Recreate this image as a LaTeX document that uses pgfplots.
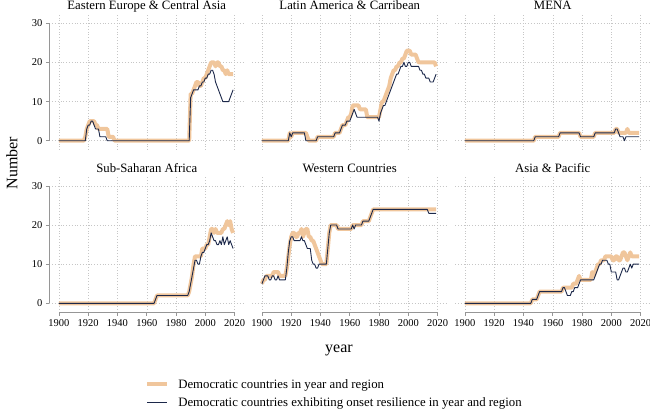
\documentclass[border=0pt]{standalone}
\usepackage{fontspec}
\setmainfont{Liberation Serif}
\usepackage{pgfplots}
\pgfplotsset{compat=1.18}
\definecolor{demcol}{RGB}{240,198,156}
\definecolor{rescol}{RGB}{28,40,74}
\definecolor{axcol}{RGB}{150,150,150}
\pgfplotsset{
  every axis title shift=0pt,
  panel/.style={
    scale only axis, width=194.9pt, height=135.4pt,
    xmin=1893.4, xmax=2026.6, ymin=-2.3, ymax=32.3,
    xtick={1900,1920,...,2020}, ytick={0,10,20,30},
    axis lines*=left,
    tick align=outside, major tick length=3.5pt,
    grid=major,
    major grid style={line width=0.5pt, color=gray!45, dash pattern=on 0.6pt off 2.2pt},
    x axis line style={draw=axcol, line width=0.6pt, -, shorten <=9.7pt, shorten >=9.7pt},
    y axis line style={draw=axcol, line width=0.6pt, -, shorten <=9pt, shorten >=9pt},
    xtick style={draw=axcol, line width=0.6pt},
    ytick style={draw=axcol, line width=0.6pt},
    ticklabel style={font=\fontsize{10.5}{12}\selectfont, /pgf/number format/1000 sep={}, /pgf/number format/assume math mode=true},
    title style={at={(0.5,1)}, anchor=base, yshift=4.8pt, font=\fontsize{12.75}{14}\selectfont, inner sep=0pt},
  },
  noy/.style={y axis line style={draw=none}, ytick style={draw=none}, yticklabels={}},
  nox/.style={x axis line style={draw=none}, xtick style={draw=none}, xticklabels={}},
  dem/.style={demcol, line width=4pt, line join=round},
  res/.style={rescol, line width=0.9pt, line join=round},
}
\begin{document}
\begin{tikzpicture}
\useasboundingbox (0,0) rectangle (650pt,-410pt);

% ---------- Eastern Europe & Central Asia
\begin{axis}[panel, nox, at={(49.3pt,-14.3pt)}, anchor=north west, title={Eastern Europe \& Central Asia}]
\addplot[dem] coordinates {(1900,0)(1917,0)(1918,1)(1919,3)(1920,4)(1921,5)(1924,5)(1925,4)(1926,4)(1927,3)(1933,3)(1934,1)(1937,1)(1938,0)(1989,0)(1990,12)(1991,12)(1992,13)(1993,14)(1994,15)(1995,15)(1996,14)(1997,14)(1998,15)(1999,16)(2000,16)(2001,17)(2002,18)(2003,19)(2004,20)(2006,20)(2007,19)(2008,20)(2009,20)(2010,19)(2011,19)(2012,18)(2013,18)(2014,17)(2015,18)(2016,17)(2019,17)};
\addplot[res] coordinates {(1900,0)(1918,0)(1919,3)(1920,4)(1921,4)(1922,5)(1923,5)(1924,4)(1925,3)(1927,3)(1928,1)(1932,1)(1933,0)(1989,0)(1990,11)(1991,12)(1992,13)(1995,13)(1996,14)(1997,14)(1998,15)(1999,15)(2000,16)(2001,16)(2002,17)(2003,17)(2004,18)(2005,18)(2006,17)(2007,15)(2008,14)(2009,13)(2010,12)(2011,11)(2012,10)(2016,10)(2017,11)(2018,12)(2019,13)};
\end{axis}

% ---------- Latin America & Carribean
\begin{axis}[panel, nox, noy, at={(252.3pt,-14.3pt)}, anchor=north west, title={Latin America \& Carribean}]
\addplot[dem] coordinates {(1900,0)(1918,0)(1919,2)(1920,1)(1921,2)(1930,2)(1931,1)(1932,0)(1937,0)(1938,1)(1949,1)(1950,2)(1953,2)(1954,3)(1955,4)(1957,4)(1958,5)(1959,6)(1960,6)(1961,7)(1962,9)(1966,9)(1967,8)(1971,8)(1972,6)(1980,6)(1981,8)(1982,10)(1983,10)(1984,11)(1985,12)(1986,13)(1987,14)(1988,16)(1989,17)(1990,18)(1991,18)(1992,19)(1993,19)(1994,20)(1995,20)(1996,21)(1997,21)(1998,22)(1999,23)(2001,23)(2002,22)(2005,22)(2006,21)(2007,20)(2018,20)(2019,19)};
\addplot[res] coordinates {(1900,0)(1918,0)(1919,2)(1920,1)(1921,2)(1929,2)(1930,0)(1937,0)(1938,1)(1949,1)(1950,2)(1953,2)(1954,3)(1955,4)(1957,4)(1958,5)(1960,5)(1961,6)(1962,7)(1963,8)(1964,7)(1965,6)(1979,6)(1980,5)(1981,7)(1982,8)(1983,9)(1984,9)(1985,10)(1986,11)(1987,12)(1988,13)(1989,14)(1990,15)(1991,16)(1992,17)(1993,17)(1994,18)(1995,19)(1996,19)(1997,20)(1998,19)(1999,19)(2000,20)(2001,20)(2002,19)(2007,19)(2008,18)(2009,18)(2010,17)(2011,17)(2012,16)(2014,16)(2015,15)(2017,15)(2018,16)(2019,17)};
\end{axis}

% ---------- MENA
\begin{axis}[panel, nox, noy, at={(455.3pt,-14.3pt)}, anchor=north west, title={MENA}]
\addplot[dem] coordinates {(1900,0)(1947,0)(1948,1)(1964,1)(1965,2)(1978,2)(1979,1)(1988,1)(1989,2)(2002,2)(2003,3)(2004,3)(2005,2)(2010,2)(2011,3)(2012,2)(2019,2)};
\addplot[res] coordinates {(1900,0)(1947,0)(1948,1)(1964,1)(1965,2)(1978,2)(1979,1)(1988,1)(1989,2)(2002,2)(2003,3)(2004,3)(2005,2)(2006,1)(2008,1)(2009,0)(2010,1)(2019,1)};
\end{axis}

% ---------- Sub-Saharan Africa
\begin{axis}[panel, at={(49.3pt,-176.9pt)}, anchor=north west, title={Sub-Saharan Africa},
  legend style={draw=none, fill=none, at={(0.476,-0.463)}, anchor=north west,
    font=\fontsize{12.8}{15}\selectfont, legend cell align=left, row sep=4pt},
  legend image code/.code={\draw[#1] (0pt,0pt) -- (20pt,0pt); \path (27pt,0pt);}]
\addplot[dem] coordinates {(1900,0)(1965,0)(1966,1)(1967,2)(1988,2)(1989,3)(1990,5)(1991,7)(1992,10)(1993,12)(1997,12)(1998,14)(2000,14)(2001,15)(2002,15)(2003,17)(2004,19)(2005,19)(2006,18)(2007,19)(2008,18)(2011,18)(2012,19)(2013,19)(2014,20)(2015,21)(2016,20)(2017,21)(2018,19)(2019,18)};
\addplot[res] coordinates {(1900,0)(1965,0)(1966,1)(1967,2)(1988,2)(1989,3)(1990,5)(1991,7)(1992,9)(1993,11)(1994,11)(1995,10)(1996,10)(1997,12)(1998,13)(1999,13)(2000,14)(2001,15)(2002,15)(2003,16)(2004,18)(2005,17)(2006,16)(2007,16)(2008,15)(2009,15)(2010,16)(2011,15)(2012,17)(2013,15)(2014,16)(2015,17)(2016,15)(2017,16)(2018,15)(2019,14)};
\legend{Democratic countries in year and region, Democratic countries exhibiting onset resilience in year and region}
\end{axis}

% ---------- Western Countries
\begin{axis}[panel, noy, at={(252.3pt,-176.9pt)}, anchor=north west, title={Western Countries}]
\addplot[dem] coordinates {(1900,5)(1901,6)(1902,6)(1903,7)(1907,7)(1908,8)(1911,8)(1912,7)(1916,7)(1917,9)(1918,12)(1919,15)(1920,17)(1921,18)(1922,18)(1923,17)(1924,17)(1925,18)(1926,18)(1927,19)(1928,17)(1929,18)(1930,19)(1931,19)(1932,17)(1933,17)(1934,16)(1935,16)(1936,15)(1937,14)(1938,13)(1939,12)(1940,11)(1941,10)(1944,10)(1945,14)(1946,18)(1947,20)(1951,20)(1952,19)(1961,19)(1962,20)(1968,20)(1969,21)(1973,21)(1974,22)(1975,23)(1976,24)(2019,24)};
\addplot[res] coordinates {(1900,5)(1901,6)(1902,7)(1904,7)(1905,6)(1906,6)(1907,7)(1908,7)(1909,6)(1910,6)(1911,7)(1912,6)(1916,6)(1917,9)(1918,13)(1919,16)(1920,17)(1921,17)(1922,16)(1926,16)(1927,17)(1928,16)(1929,16)(1930,15)(1931,14)(1933,14)(1934,11)(1935,10)(1936,10)(1937,9)(1938,9)(1939,10)(1944,10)(1945,14)(1946,18)(1947,20)(1951,20)(1952,19)(1961,19)(1962,20)(1963,19)(1964,20)(1968,20)(1969,21)(1973,21)(1974,22)(1975,23)(1976,24)(2013,24)(2014,23)(2019,23)};
\end{axis}

% ---------- Asia & Pacific
\begin{axis}[panel, noy, at={(455.3pt,-176.9pt)}, anchor=north west, title={Asia \& Pacific}]
\addplot[dem] coordinates {(1900,0)(1945,0)(1946,1)(1949,1)(1950,2)(1951,3)(1966,3)(1967,4)(1973,4)(1974,5)(1976,5)(1977,6)(1978,7)(1979,6)(1986,6)(1987,8)(1988,7)(1989,8)(1990,9)(1991,10)(1992,10)(1993,11)(1995,11)(1996,12)(2000,12)(2001,11)(2002,11)(2003,12)(2004,12)(2005,11)(2006,11)(2007,12)(2008,13)(2009,13)(2010,12)(2011,11)(2012,12)(2013,13)(2014,12)(2019,12)};
\addplot[res] coordinates {(1900,0)(1945,0)(1946,1)(1949,1)(1950,2)(1951,3)(1966,3)(1967,4)(1968,4)(1969,3)(1970,2)(1972,2)(1973,3)(1974,3)(1975,4)(1977,4)(1978,5)(1979,6)(1988,6)(1989,7)(1990,8)(1991,9)(1992,10)(1993,10)(1994,11)(1997,11)(1998,10)(1999,10)(2000,8)(2003,8)(2004,6)(2005,6)(2006,7)(2007,8)(2008,9)(2009,9)(2010,8)(2011,8)(2012,9)(2013,10)(2014,9)(2015,10)(2019,10)};
\end{axis}

\node[font=\fontsize{16}{18}\selectfont] at (339pt,-350pt) {year};
\node[font=\fontsize{16}{18}\selectfont, rotate=90] at (12pt,-163pt) {Number};
\end{tikzpicture}
\end{document}
